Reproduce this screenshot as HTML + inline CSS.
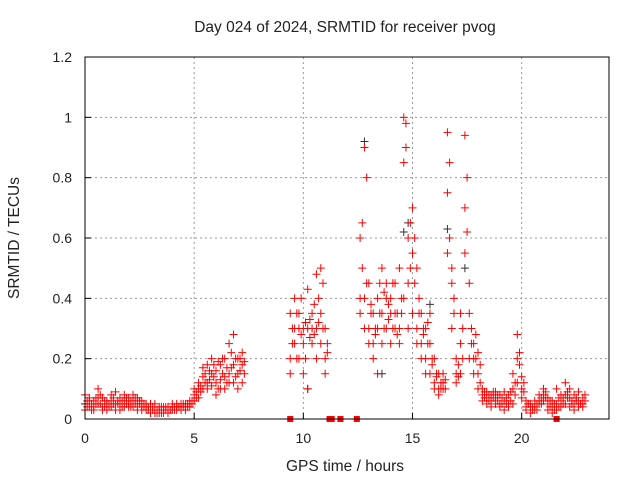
<!DOCTYPE html>
<html><head><meta charset="utf-8"><style>
body{margin:0;background:#fff;}
svg text{font-family:"Liberation Sans",sans-serif;font-size:14px;fill:#222;}
svg text.big{font-size:15.5px;}
</style></head><body>
<svg id="chart" width="640" height="480" xmlns="http://www.w3.org/2000/svg">
<text class="big" x="345" y="32" text-anchor="middle">Day 024 of 2024, SRMTID for receiver pvog</text>
<text class="big" x="345" y="471" text-anchor="middle">GPS time / hours</text>
<text class="big" transform="translate(19,238) rotate(-90)" text-anchor="middle">SRMTID / TECUs</text>
<g id="grid"></g>
<g id="ticks"></g>
<g id="marks"></g>
<rect x="85" y="57" width="524" height="362" fill="none" stroke="#000" stroke-width="1"/>
</svg>
<script>
const xTicks=[0,5,10,15,20];
const yTicks=[0,0.2,0.4,0.6,0.8,1,1.2];
const yTickLabels=["0","0.2","0.4","0.6","0.8","1","1.2"];
const segStart=[0,9.4,12.6];
const segStep=[0.2,0.2,0.2];
const segA1=[.05,.06,.04,.1,.04,.05,.06,.09,.05,.06,.05,.06,.05,.04,.05,.03,.03,.02,.03,.04,.04,.03,.04,.05,.06,.08,.1,.14,.12,.15,.12,.18,.2,.25,.28,.2,.22];
const segA2=[.08,.04,.06,.05,.07,.03,.04,.05,.07,.04,.07,.04,.03,.06,.03,.05,.02,.04,.02,.02,.03,.04,.03,.04,.04,.06,.07,.1,.18,.2,.16,.13,.14,.15,.18,.15,.18];
const segA3=[.03,.07,.03,.07,.03,.06,.08,.03,.03,.08,.04,.08,.07,.03,.04,.02,.05,.03,.04,.03,.05,.05,.05,.03,.05,.1,.12,.17,.1,.11,.08,.1,.1,.12,.12,.1,.12];
const segA4=[.06,.05,.07,.05,.06,.04,.07,.05,.06,.05,.06,.07,.05,.04,.04,.03,.03,.04,.03,.03,.04,.04,.04,.05,.06,.09,.11,.15,.16,.14,.19,.15,.17,.22,.2,.16,.15];
const segA5=[.04,.03,.05,.08,.04,.05,.05,.06,.04,.07,.04,.05,.06,.05,.03,.04,.02,.02,.04,.03,.03,.04,.05,.04,.05,.07,.09,.12,.13,.18,.1,.2,.12,.17,.14,.2,.19];
const segB1=[.2,.4,.3,.25,.43,.3,.48,.5,.3];
const segB2=[.35,.25,.2,.15,.1,.25,.3,.25,.2];
const segB3=[.15,.3,.35,.3,.3,.35,.2,.35,.15];
const segB4=[.3,.35,.28,.32,.33,.28,.4,.3,.25];
const segB5=[.25,.2,.4,.2,.27,.38,.32,.45,.22];
const segC1=[.35,.4,.45,.35,.3,.5,.4,.35,.45,.3,1.0,.6,.7,.5,.25,.2,.15,.1,.08,.12,.95,.45,.15,.25,.94,.35,.25,.22,.1,.07,.06,.07,.05,.06,.05,.1,.28,.1,.04,.05,.04,.06,.08,.05,.04,.05,.06,.12,.07,.05,.06,.05];
const segC2=[.6,.9,.3,.25,.4,.35,.3,.25,.3,.5,.85,.3,.55,.3,.35,.15,.25,.12,.15,.1,.75,.3,.2,.15,.7,.2,.15,.1,.06,.05,.08,.05,.08,.03,.08,.15,.2,.07,.03,.02,.06,.08,.1,.03,.02,.03,.04,.05,.04,.08,.04,.07];
const segC3=[.4,.3,.25,.2,.15,.25,.45,.4,.35,.25,.4,.45,.35,.25,.2,.3,.35,.2,.1,.15,.55,.5,.12,.35,.55,.45,.2,.15,.08,.09,.04,.09,.04,.09,.04,.05,.12,.14,.06,.04,.03,.05,.06,.07,.06,.1,.08,.08,.1,.03,.09,.04];
const segC4=[.5,.45,.38,.3,.35,.42,.38,.3,.35,.4,.9,.65,.6,.4,.3,.25,.2,.15,.12,.1,.6,.4,.18,.3,.8,.3,.2,.18,.09,.08,.07,.06,.07,.05,.06,.12,.22,.12,.05,.03,.05,.07,.09,.04,.03,.07,.05,.07,.06,.06,.05,.06];
const segC5=[.65,.8,.35,.28,.45,.3,.33,.45,.28,.35,.98,.5,.45,.35,.28,.32,.18,.14,.1,.13,.85,.35,.14,.2,.62,.25,.28,.12,.07,.06,.09,.08,.05,.07,.09,.08,.18,.09,.05,.04,.03,.05,.07,.06,.05,.04,.07,.09,.05,.07,.05,.08];
const blackT=[12.8,14.6,16.6,17.4,10.2,13.6,15.8,14.8,0.0];
const blackV=[.92,.62,.63,.5,.1,.15,.38,.65,.05];
const zeroT=[9.4,11.2,11.3,11.7,12.45,21.6];

const NS="http://www.w3.org/2000/svg";
const X=t=>85+t*(524/24);
const Y=v=>419-v*(362/1.2);
const grid=document.getElementById('grid'),ticks=document.getElementById('ticks'),marks=document.getElementById('marks');
function mk(tag,attrs,parent){const e=document.createElementNS(NS,tag);for(const k in attrs)e.setAttribute(k,attrs[k]);parent.appendChild(e);return e;}
xTicks.forEach(t=>{
  const g=mk('line',{x1:X(t),x2:X(t),y1:57,y2:419,stroke:'#999','stroke-dasharray':'2,3'},grid);
  
  
  const tk=mk('line',{x1:X(t),x2:X(t),y1:419,y2:413,stroke:'#000'},ticks);
  
  
  const lb=mk('text',{x:X(t),y:443,'text-anchor':'middle'},ticks);lb.textContent=t;
  
  
});
yTicks.forEach((v,i)=>{
  const g=mk('line',{x1:85,x2:609,y1:Y(v),y2:Y(v),stroke:'#999','stroke-dasharray':'2,3'},grid);
  
  
  const tk=mk('line',{x1:85,x2:91,y1:Y(v),y2:Y(v),stroke:'#000'},ticks);
  
  
  const lb=mk('text',{x:72,y:Y(v)+5,'text-anchor':'end'},ticks);lb.textContent=yTickLabels[i];
  
  
});
function plus(t,v,col){
  const x=X(t),y=Y(v);
  const p=mk('path',{d:`M${x-4} ${y}H${x+4}M${x} ${y-4}V${y+4}`,stroke:col,'stroke-width':1,fill:'none'},marks);
  
  
}
blackT.forEach((t,i)=>plus(t,blackV[i],'#333'));
const segs=[[segA1,segA2,segA3],[segB1,segB2,segB3],[segC1,segC2,segC3]];
const segsOff=[[segA4,segA5],[segB4,segB5],[segC4,segC5]];
segs.forEach((s,si)=>{s.forEach(arr=>arr.forEach((v,i)=>plus(segStart[si]+i*segStep[si],v,'#f00')));});
segsOff.forEach((s,si)=>{s.forEach(arr=>arr.forEach((v,i)=>plus(segStart[si]+(i+0.5)*segStep[si],v,'#f00')));});
zeroT.forEach(t=>{
  const r=mk('rect',{x:X(t)-3,y:416,width:6,height:6,fill:'#f00'},marks);
  
  
});
</script>
</body></html>
